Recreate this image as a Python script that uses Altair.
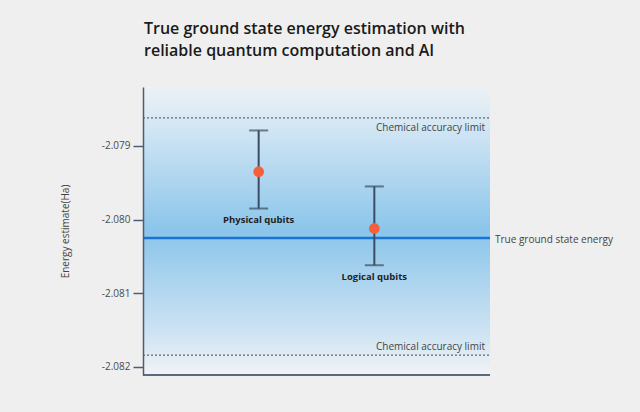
import altair as alt
import pandas as pd

# ---- data ----
categories = ["Physical qubits", "Logical qubits"]
estimates = [-2.07935, -2.08012]
upper = [-2.07879, -2.07955]
lower = [-2.07985, -2.08062]
label_dy = [11, 12]

true_energy = -2.08025
chem_upper = -2.07862
chem_lower = -2.08184

y_ticks = [-2.079, -2.080, -2.081, -2.082]
y_domain = [-2.08211, -2.0782]

W, H = 347, 288
FONT = "Open Sans"
BG = "#efefef"

pts = pd.DataFrame({"cat": categories, "est": estimates, "hi": upper, "lo": lower, "dy": label_dy})
band = pd.DataFrame({"top": [y_domain[1]], "bot": [y_domain[0]]})
lines = pd.DataFrame({
    "v": [chem_upper, chem_lower],
    "label": ["Chemical accuracy limit", "Chemical accuracy limit"],
})
true_df = pd.DataFrame({"v": [true_energy], "label": ["True ground state energy"]})

yscale = alt.Scale(domain=y_domain, nice=False, zero=False)
xscale = alt.Scale(type="point", domain=categories, padding=1.326)

yaxis = alt.Axis(
    values=y_ticks, title="Energy estimate(Ha)",
    labelExpr="replace(format(datum.value, '.3f'), '\u2212', '-')",
    grid=False, tickSize=10, tickWidth=1.5, tickColor="#4d5d72",
    domainColor="#4d5d72", domainWidth=1.5, zindex=1,
    labelFont=FONT, labelFontSize=10, labelColor="#4a4a4a", labelPadding=3,
    titleFont=FONT, titleFontSize=10, titleFontWeight="normal", titleColor="#444444",
    titleX=-78, titleY=144, titleAngle=-90, titleAlign="center", titleBaseline="middle",
)

gradient = alt.Gradient(
    gradient="linear", x1=0, x2=0, y1=0, y2=1,
    stops=[
        alt.GradientStop(offset=0.0, color="#eef1f4"),
        alt.GradientStop(offset=0.12, color="#d6e8f5"),
        alt.GradientStop(offset=0.5, color="#8bc5ea"),
        alt.GradientStop(offset=0.85, color="#cde3f3"),
        alt.GradientStop(offset=1.0, color="#f1f3f5"),
    ],
)

bg = alt.Chart(band).mark_rect(color=gradient).encode(
    x=alt.value(0), x2=alt.value(W),
    y=alt.Y("top:Q", scale=yscale, axis=yaxis), y2="bot:Q",
)

xdomain = alt.Chart(band).mark_rule(color="#5a6a80", strokeWidth=2).encode(
    x=alt.value(0), x2=alt.value(W), y=alt.value(H),
)

chem = alt.Chart(lines).mark_rule(color="#666666", strokeWidth=1.3, strokeDash=[2, 2]).encode(
    x=alt.value(0), x2=alt.value(W), y=alt.Y("v:Q", scale=yscale),
)
chem_top_text = alt.Chart(lines.iloc[[0]]).mark_text(
    align="right", baseline="middle", dy=10, font=FONT, fontSize=10, color="#444444"
).encode(x=alt.value(W - 5), y=alt.Y("v:Q", scale=yscale), text="label:N")
chem_bot_text = alt.Chart(lines.iloc[[1]]).mark_text(
    align="right", baseline="middle", dy=-8, font=FONT, fontSize=10, color="#444444"
).encode(x=alt.value(W - 5), y=alt.Y("v:Q", scale=yscale), text="label:N")

true_line = alt.Chart(true_df).mark_rule(color="#1a74d4", strokeWidth=2.5).encode(
    x=alt.value(0), x2=alt.value(W), y=alt.Y("v:Q", scale=yscale),
)
true_text = alt.Chart(true_df).mark_text(
    align="left", baseline="middle", dy=2, font=FONT, fontSize=10, color="#444444"
).encode(x=alt.value(W + 5), y=alt.Y("v:Q", scale=yscale), text="label:N")

xenc = alt.X("cat:N", scale=xscale, axis=None, sort=categories)

err = alt.Chart(pts).mark_rule(color="#3b4d63", strokeWidth=2).encode(
    x=xenc, y=alt.Y("lo:Q", scale=yscale), y2="hi:Q",
)
cap_hi = alt.Chart(pts).mark_tick(color="#3b4d63", thickness=2, size=19, orient="horizontal").encode(
    x=xenc, y=alt.Y("hi:Q", scale=yscale),
)
cap_lo = alt.Chart(pts).mark_tick(color="#3b4d63", thickness=2, size=19, orient="horizontal").encode(
    x=xenc, y=alt.Y("lo:Q", scale=yscale),
)
dots = alt.Chart(pts).mark_circle(color="#f5603a", size=115, opacity=1).encode(
    x=xenc, y=alt.Y("est:Q", scale=yscale),
)
labels = [
    alt.Chart(pts.iloc[[i]]).mark_text(
        baseline="middle", align="center", dy=int(pts["dy"].iloc[i]), font=FONT,
        fontSize=9.5, fontWeight="bold", color="#222222"
    ).encode(x=xenc, y=alt.Y("lo:Q", scale=yscale), text="cat:N")
    for i in range(len(pts))
]

chart = alt.layer(
    bg, chem, true_line, err, cap_hi, cap_lo, dots, *labels,
    chem_top_text, chem_bot_text, true_text, xdomain,
).properties(
    width=W, height=H,
    title=alt.TitleParams(
        ["True ground state energy estimation with", "reliable quantum computation and AI"],
        anchor="start", frame="group", font=FONT, fontSize=16, fontWeight=600,
        color="#1a1a1a", lineHeight=22, offset=28, dx=1,
    ),
    autosize=alt.AutoSizeParams(type="none"),
    padding={"left": 135, "top": 79, "right": 142, "bottom": 29},
    background=BG,
).configure_view(stroke=None)

chart.save("out.html", embed_options={"renderer": "svg", "actions": False})

# make the page margin match the chart background
with open("out.html", encoding="utf-8") as f:
    page = f.read()
page = page.replace("<head>", "<head><style>html,body{background:%s;}</style>" % BG, 1)
with open("out.html", "w", encoding="utf-8") as f:
    f.write(page)
